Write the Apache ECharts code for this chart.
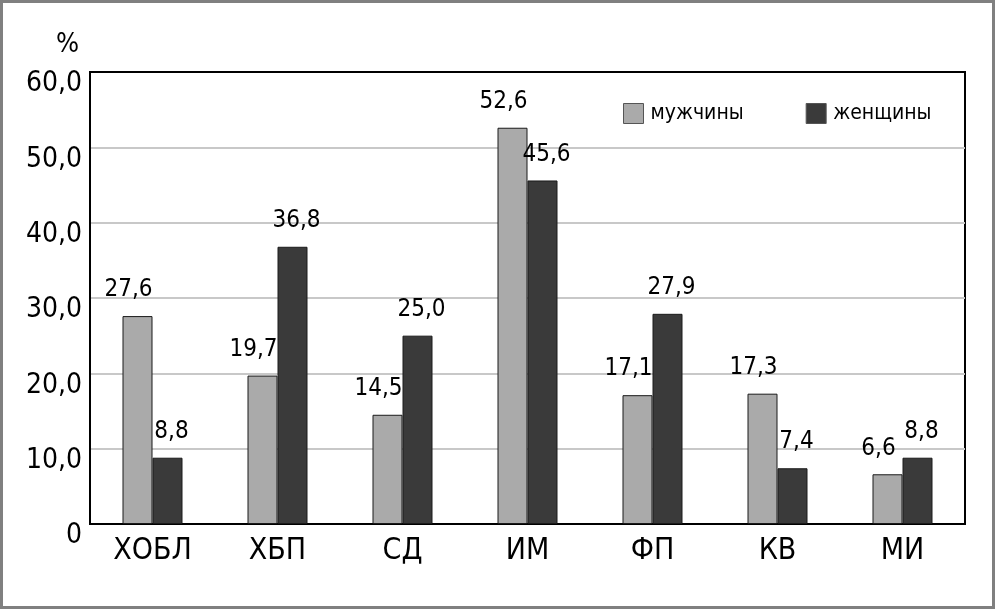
<!DOCTYPE html>
<html><head><meta charset="utf-8">
<script src="https://cdn.jsdelivr.net/npm/echarts@6/dist/echarts.min.js"></script>
<style>html,body{margin:0;padding:0;background:#fff}#c{width:995px;height:609px}</style>
</head><body><div id="c"></div>
<script>
const categories = ['ХОБЛ','ХБП','СД','ИМ','ФП','КВ','МИ'];
const men = [27.6, 19.7, 14.5, 52.6, 17.1, 17.3, 6.6];
const women = [8.8, 36.8, 25.0, 45.6, 27.9, 7.4, 8.8];
const seriesNames = ['мужчины','женщины'];
const FONT = '"Liberation Sans Narrow","DejaVu Sans Condensed","Liberation Sans",sans-serif';
const fmt = v => v.toFixed(1).replace('.', ',');
const chart = echarts.init(document.getElementById('c'));
chart.setOption({
  animation: false,
  backgroundColor: '#fff',
  textStyle: {fontFamily: FONT},
  grid: {left: 90, right: 30, top: 72, bottom: 85, show: true, borderColor: '#000', borderWidth: 2, backgroundColor: 'transparent'},
  legend: {
    top: 98, left: 618, itemWidth: 20, itemHeight: 20, itemGap: 62, icon: 'rect',
    data: seriesNames,
    itemStyle: {borderColor: '#555', borderWidth: 1},
    textStyle: {fontFamily: FONT, fontSize: 21, color: '#000', padding: [0, 0, 0, 2]}
  },
  graphic: [
    {type: 'rect', shape: {x: 1.5, y: 1.5, width: 992, height: 606}, style: {fill: 'none', stroke: '#808080', lineWidth: 3}, z: 100},
    {type: 'text', left: 56, top: 31, style: {text: '%', font: '27px ' + FONT, fill: '#000'}}
  ],
  xAxis: {
    type: 'category', data: categories,
    axisLine: {lineStyle: {color: '#000', width: 2}},
    axisTick: {show: false},
    axisLabel: {fontFamily: FONT, fontSize: 30, color: '#000', margin: 12}
  },
  yAxis: {
    type: 'value', min: 0, max: 60, interval: 10,
    axisLine: {show: true, lineStyle: {color: '#000', width: 2}},
    axisTick: {show: false},
    splitLine: {showMaxLine: false, showMinLine: false, lineStyle: {color: '#c8c8c8', width: 2}},
    axisLabel: {fontFamily: FONT, fontSize: 28, color: '#000', margin: 8, verticalAlign: 'top', lineHeight: 24,
      formatter: v => v === 0 ? '0' : fmt(v)}
  },
  series: [
    {name: seriesNames[0], type: 'bar', data: men, barWidth: 30, barGap: '0%',
      itemStyle: {color: '#aaaaaa', borderColor: '#1a1a1a', borderWidth: 1},
      label: {show: true, position: 'top', distance: 14, fontFamily: FONT, fontSize: 24, color: '#000', formatter: p => fmt(p.value), offset: [-9, 0]}},
    {name: seriesNames[1], type: 'bar', data: women, barWidth: 30,
      itemStyle: {color: '#3a3a3a', borderColor: '#1a1a1a', borderWidth: 1},
      label: {show: true, position: 'top', distance: 14, fontFamily: FONT, fontSize: 24, color: '#000', formatter: p => fmt(p.value), offset: [4, 0]}}
  ]
});
</script></body></html>
